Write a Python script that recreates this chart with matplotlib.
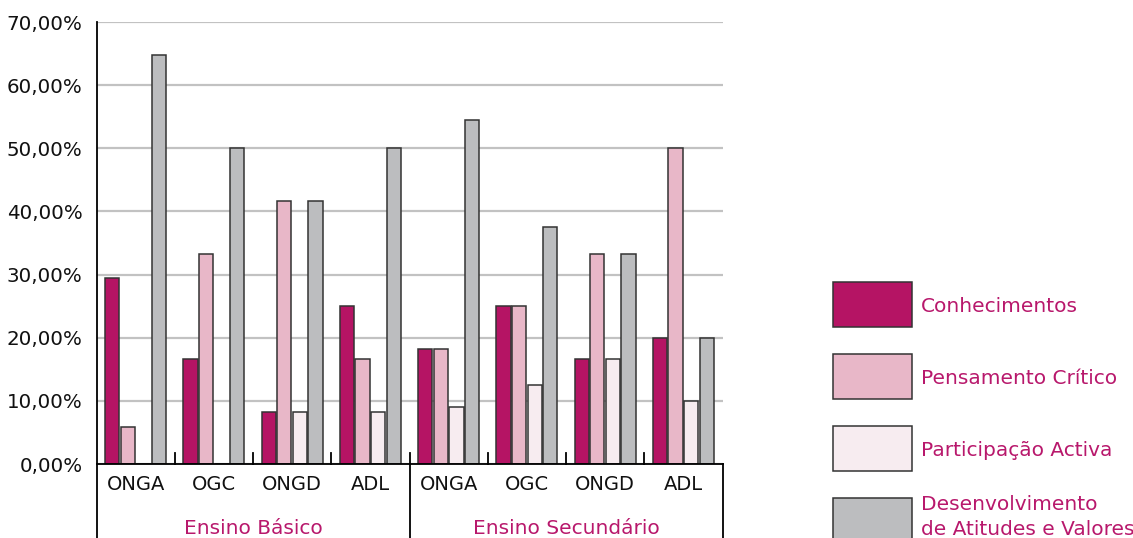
"""Grouped bar chart: competências por tipo de organização e nível de ensino."""

import matplotlib
matplotlib.use("Agg")
import matplotlib.pyplot as plt
import numpy as np
from matplotlib.patches import Rectangle
from matplotlib.ticker import FuncFormatter
from matplotlib.transforms import blended_transform_factory


organizations = ["ONGA", "OGC", "ONGD", "ADL"]
levels = ["Ensino Básico", "Ensino Secundário"]
series_names = [
    "Conhecimentos",
    "Pensamento Crítico",
    "Participação Activa",
    "Desenvolvimento\nde Atitudes e Valores",
]

# values in %, Básico (ONGA, OGC, ONGD, ADL) then Secundário (same order)
conhecimentos = [29.4, 16.7, 8.3, 25.0, 18.2, 25.0, 16.7, 20.0]
pensamento_critico = [5.9, 33.3, 41.7, 16.7, 18.2, 25.0, 33.3, 50.0]
participacao_activa = [0.0, 0.0, 8.3, 8.3, 9.1, 12.5, 16.7, 10.0]
desenvolvimento = [64.7, 50.0, 41.7, 50.0, 54.5, 37.5, 33.3, 20.0]

series = [conhecimentos, pensamento_critico, participacao_activa, desenvolvimento]
colors = ["#b51464", "#e8b7c8", "#f7ecf0", "#bcbdbf"]
text_magenta = "#b8186c"

W, H = 1133, 538
plt.rcParams["font.family"] = ["DejaVu Sans"]

fig = plt.figure(figsize=(W / 100, H / 100), dpi=100)
ax = fig.add_axes([96.5 / W, 1 - 464 / H, (722.5 - 96.5) / W, (464 - 22) / H])

n_groups = len(conhecimentos)
centers = np.arange(n_groups) + 0.5
pitch, width = 0.199, 0.183
for j, (vals, col) in enumerate(zip(series, colors)):
    ax.bar(centers + (j - 1.5) * pitch, vals, width=width, color=col,
           edgecolor="#333333", linewidth=1.1, zorder=3)

ax.set_xlim(0, n_groups)
ax.set_ylim(0, 70)
ax.set_yticks(np.arange(0, 71, 10))
ax.yaxis.set_major_formatter(FuncFormatter(lambda v, _: f"{v:.2f}%".replace(".", ",")))
ax.tick_params(axis="y", length=0, pad=10, labelsize=14.3, labelcolor="#111111")
ax.set_xticks(centers)
ax.set_xticklabels(organizations * len(levels))
ax.tick_params(axis="x", length=0, pad=8, labelsize=14, labelcolor="#111111")

ax.set_axisbelow(True)
ax.yaxis.grid(True, color="#c2c2c2", linewidth=1.6)
for side in ("top", "right", "left"):
    ax.spines[side].set_visible(False)
ax.spines["bottom"].set_linewidth(1.3)
ax.spines["bottom"].set_zorder(4)

# frame lines reaching below the axis
tr = blended_transform_factory(ax.transData, ax.transAxes)
low = -0.2
tick_h = 11 / 442
line_kw = dict(color="black", linewidth=1.3, clip_on=False, transform=tr, zorder=5)
ax.plot([0, 0], [1, low], **line_kw)
ax.plot([4, 4], [tick_h, low], **line_kw)
ax.plot([8, 8], [0, low], **line_kw)
for x in (1, 2, 3, 5, 6, 7):
    ax.plot([x, x], [0, tick_h], **line_kw)

for k, name in enumerate(levels):
    ax.text(4 * k + 2, -(519 - 464) / 442, name, transform=tr, ha="center",
            va="top", fontsize=14.5, color=text_magenta)

# legend drawn by hand on the right
box_tops = [282, 354, 426, 497.5]
for name, col, top in zip(series_names, colors, box_tops):
    fig.add_artist(Rectangle((833 / W, 1 - (top + 44.5) / H), 78.5 / W, 44.5 / H,
                             transform=fig.transFigure, facecolor=col,
                             edgecolor="#333333", linewidth=1.1))
    if "\n" in name:
        fig.text(921 / W, 1 - (top - 3) / H, name, ha="left", va="top",
                 fontsize=14.5, color=text_magenta, linespacing=1.45)
    else:
        fig.text(921 / W, 1 - (top + 25) / H, name, ha="left", va="center",
                 fontsize=14.5, color=text_magenta)

fig.savefig("out.png", dpi=100)
